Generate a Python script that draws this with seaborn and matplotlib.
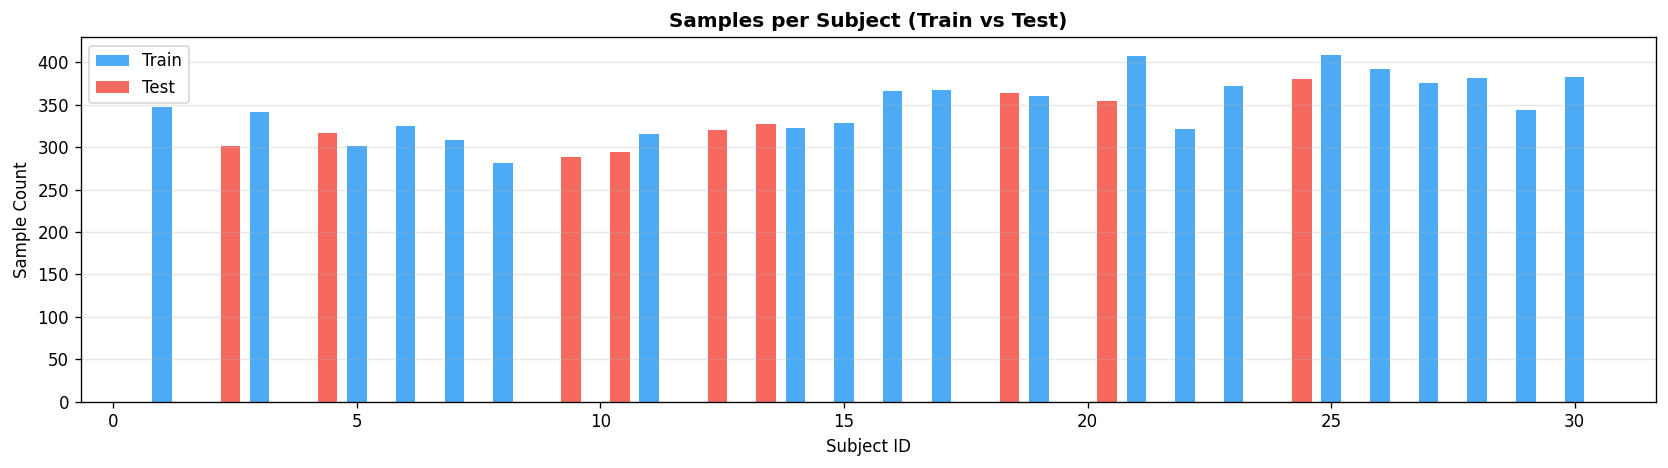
import numpy as np
import pandas as pd
import matplotlib
matplotlib.use("Agg")
import matplotlib.pyplot as plt
import seaborn as sns

train_subjects = [1, 3, 5, 6, 7, 8, 11, 14, 15, 16, 17, 19, 21, 22, 23, 25, 26, 27, 28, 29, 30]
train_counts = [347, 341, 302, 325, 308, 281, 316, 323, 328, 366, 368, 360, 408, 321, 372,
                409, 392, 376, 382, 344, 383]

test_subjects = [2, 4, 9, 10, 12, 13, 18, 20, 24]
test_counts = [302, 317, 288, 294, 320, 327, 364, 354, 381]


def main():
    train = pd.DataFrame({"subject": train_subjects, "count": train_counts})
    test = pd.DataFrame({"subject": np.array(test_subjects) + 0.4, "count": test_counts})

    fig, ax = plt.subplots(figsize=(1668 / 120, 468 / 120), dpi=120)

    sns.barplot(train, x="subject", y="count", native_scale=True, width=0.4,
                color="#2196F3", alpha=0.8, saturation=1, linewidth=0,
                errorbar=None, label="Train", ax=ax)
    sns.barplot(test, x="subject", y="count", native_scale=True, width=0.4,
                color="#F44336", alpha=0.8, saturation=1, linewidth=0,
                errorbar=None, label="Test", ax=ax)

    ax.set_xlabel("Subject ID")
    ax.set_ylabel("Sample Count")
    ax.set_title("Samples per Subject (Train vs Test)", fontsize=12, fontweight="bold")
    ax.legend(loc="upper left")
    ax.grid(axis="y", alpha=0.3)

    fig.subplots_adjust(left=0.0484, right=0.9928, top=0.920, bottom=0.1417)
    plt.savefig("out.png", dpi=120)


if __name__ == "__main__":
    main()
